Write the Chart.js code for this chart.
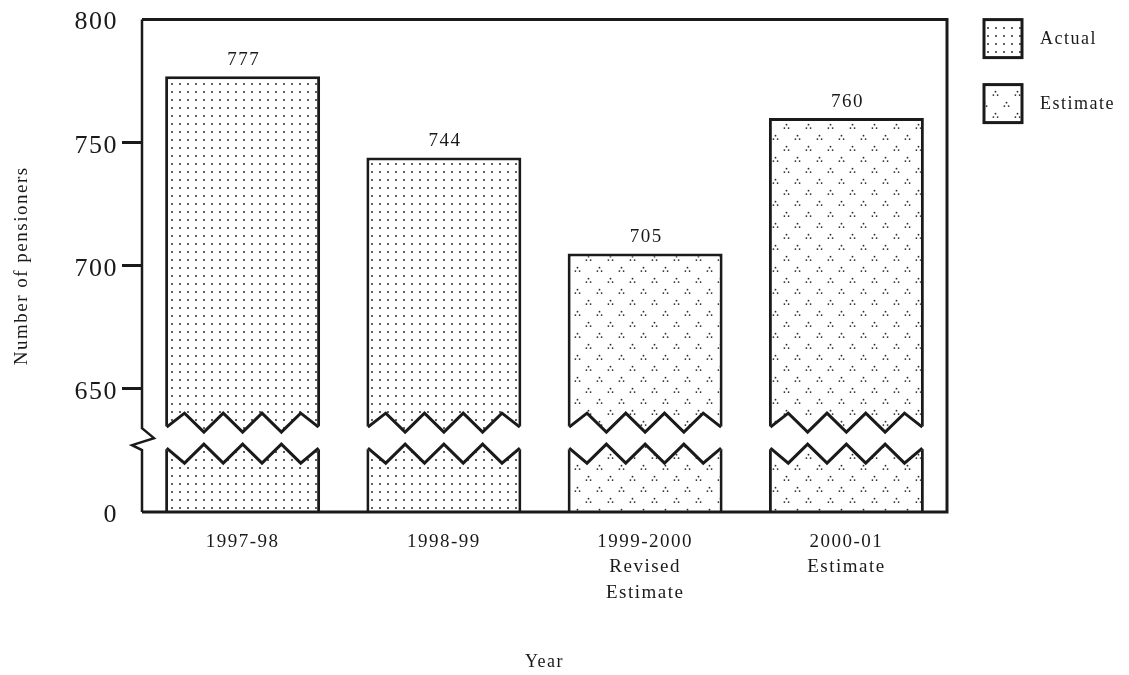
<!DOCTYPE html>
<html>
<head>
<meta charset="utf-8">
<script src="https://cdn.jsdelivr.net/npm/chart.js@4.4.1/dist/chart.umd.min.js"></script>
<style>
  html, body { margin: 0; padding: 0; background: #fff; }
  #wrap { width: 1129px; height: 675px; position: relative; }
</style>
</head>
<body>
<div id="wrap"><canvas id="chart"></canvas></div>
<script>
// Number of pensioners by year
const years = ['1997-98', '1998-99', ['1999-2000', 'Revised', 'Estimate'], ['2000-01', 'Estimate']];
const actualValues = [777, 744, null, null];
const estimateValues = [null, null, 705, 760];
const yTickValues = [600, 650, 700, 750, 800];
const yTickLabels = ['0', '650', '700', '750', '800'];
const legendLabels = ['Actual', 'Estimate'];
// the axis is broken below 650, "0" sits where 600 would be
const breakValue = 630;

const serif = '"Liberation Serif", "Times New Roman", serif';
const ink = '#1a1a1a';

function makePattern(w, h, drawFn) {
    const c = document.createElement('canvas');
    c.width = w;
    c.height = h;
    const g = c.getContext('2d');
    g.fillStyle = '#fff';
    g.fillRect(0, 0, w, h);
    g.fillStyle = '#2a2a2a';
    drawFn(g);
    return g.createPattern(c, 'repeat');
}

function dot(g, x, y, r) {
    g.beginPath();
    g.arc(x, y, r, 0, Math.PI * 2);
    g.fill();
}

const dotPattern = makePattern(8, 8, g => dot(g, 4, 4, 1));

const hatPattern = makePattern(22, 22, g => {
    [[5.5, 5.5], [16.5, 16.5]].forEach(([x, y]) => {
        dot(g, x, y - 1.8, 0.9);
        dot(g, x - 2.1, y + 1.6, 0.9);
        dot(g, x + 2.1, y + 1.6, 0.9);
    });
});

const fills = [dotPattern, hatPattern];

// wider letter spacing, the scanned type is spread out
const spacingPlugin = {
    id: 'spacing',
    beforeLayout(chart) { chart.ctx.letterSpacing = '1.5px'; },
    beforeDraw(chart) { chart.ctx.letterSpacing = '1.5px'; }
};

const framePlugin = {
    id: 'frame',
    afterDatasetsDraw(chart) {
        const {ctx, chartArea: area, scales} = chart;
        const c = scales.y.getPixelForValue(breakValue);

        ctx.save();
        ctx.lineJoin = 'miter';
        ctx.strokeStyle = ink;

        // zigzag gap through each bar
        chart.data.datasets.forEach((ds, di) => {
            const meta = chart.getDatasetMeta(di);
            meta.data.forEach((bar, i) => {
                if (ds.data[i] == null) return;
                const left = bar.x - bar.width / 2;
                const right = bar.x + bar.width / 2;
                const step = (right - left) / 8;
                const upper = [];
                const lower = [];
                for (let k = 0; k <= 8; k++) {
                    const x = left + k * step;
                    const edge = k === 0 || k === 8;
                    upper.push([x, k % 2 ? c - 25 : c - (edge ? 11 : 6)]);
                    lower.push([x, k % 2 ? c + 25 : c + (edge ? 10 : 6)]);
                }
                ctx.fillStyle = '#fff';
                ctx.beginPath();
                upper.forEach(([x, y], k) => {
                    const xx = k === 0 ? x - 1 : (k === 8 ? x + 1 : x);
                    k ? ctx.lineTo(xx, y) : ctx.moveTo(xx, y);
                });
                lower.slice().reverse().forEach(([x, y], k) => {
                    const xx = k === 0 ? x + 1 : (k === 8 ? x - 1 : x);
                    ctx.lineTo(xx, y);
                });
                ctx.closePath();
                ctx.fill();

                ctx.lineWidth = 3;
                [upper, lower].forEach(line => {
                    ctx.beginPath();
                    line.forEach(([x, y], k) => {
                        const xx = k === 0 ? x + 1.5 : (k === 8 ? x - 1.5 : x);
                        k ? ctx.lineTo(xx, y) : ctx.moveTo(xx, y);
                    });
                    ctx.stroke();
                });
            });
        });

        // frame: top, right, bottom
        ctx.lineWidth = 3;
        ctx.beginPath();
        ctx.moveTo(area.left, area.top);
        ctx.lineTo(area.right, area.top);
        ctx.lineTo(area.right, area.bottom);
        ctx.lineTo(area.left, area.bottom);
        ctx.stroke();

        // left axis with break mark
        ctx.lineWidth = 2.5;
        ctx.beginPath();
        ctx.moveTo(area.left, area.top);
        ctx.lineTo(area.left, c - 10);
        ctx.lineTo(area.left + 12, c);
        ctx.lineTo(area.left - 10, c + 7);
        ctx.lineTo(area.left, c + 12);
        ctx.lineTo(area.left, area.bottom);
        ctx.stroke();

        // value labels
        ctx.fillStyle = ink;
        ctx.font = '19px ' + serif;
        ctx.textAlign = 'center';
        ctx.textBaseline = 'middle';
        chart.data.datasets.forEach((ds, di) => {
            chart.getDatasetMeta(di).data.forEach((bar, i) => {
                if (ds.data[i] == null) return;
                ctx.fillText(String(ds.data[i]), bar.x + 1, bar.y - 16);
            });
        });

        // legend
        const boxX = area.right + 37;
        legendLabels.forEach((label, i) => {
            const y = area.top + i * 65;
            ctx.fillStyle = fills[i];
            ctx.fillRect(boxX, y, 38, 38);
            ctx.lineWidth = 3;
            ctx.strokeRect(boxX, y, 38, 38);
            ctx.fillStyle = ink;
            ctx.font = '18px ' + serif;
            ctx.textAlign = 'left';
            ctx.fillText(label, boxX + 56, y + 20);
        });
        ctx.restore();
    }
};

const tickShown = [650, 700, 750];

new Chart(document.getElementById('chart'), {
    type: 'bar',
    data: {
        labels: years,
        datasets: [
            {
                label: legendLabels[0],
                data: actualValues,
                backgroundColor: dotPattern,
                borderColor: ink,
                borderWidth: 3,
                borderSkipped: false,
                grouped: false,
                barPercentage: 0.77,
                categoryPercentage: 1
            },
            {
                label: legendLabels[1],
                data: estimateValues,
                backgroundColor: hatPattern,
                borderColor: ink,
                borderWidth: 3,
                borderSkipped: false,
                grouped: false,
                barPercentage: 0.77,
                categoryPercentage: 1
            }
        ]
    },
    options: {
        responsive: true,
        maintainAspectRatio: false,
        animation: false,
        layout: {
            padding: {left: 0, top: 17, right: 182, bottom: 2}
        },
        plugins: {
            legend: {display: false},
            tooltip: {enabled: false}
        },
        scales: {
            x: {
                grid: {display: false},
                border: {display: false},
                ticks: {
                    color: ink,
                    font: {family: serif, size: 19, lineHeight: 1.35},
                    padding: 9,
                    maxRotation: 0,
                    autoSkip: false
                },
                title: {
                    display: true,
                    text: 'Year',
                    color: ink,
                    font: {family: serif, size: 18},
                    padding: {top: 0, bottom: 0}
                },
                afterFit(scale) { scale.height = 161; }
            },
            y: {
                min: 600,
                max: 800,
                afterBuildTicks(scale) {
                    scale.ticks = yTickValues.map(v => ({value: v}));
                },
                ticks: {
                    color: ink,
                    font: {family: serif, size: 26},
                    padding: 4,
                    labelOffset: 3,
                    callback: v => yTickLabels[yTickValues.indexOf(v)]
                },
                grid: {
                    drawOnChartArea: false,
                    drawTicks: true,
                    tickLength: 20,
                    tickWidth: 3,
                    tickColor: c => tickShown.includes(c.tick.value) ? ink : 'rgba(0,0,0,0)'
                },
                border: {display: false},
                title: {
                    display: true,
                    text: 'Number of pensioners',
                    color: ink,
                    font: {family: serif, size: 19},
                    padding: {top: 11, bottom: 0}
                },
                afterFit(scale) { scale.width = 142; }
            }
        }
    },
    plugins: [spacingPlugin, framePlugin]
});
</script>
</body>
</html>
